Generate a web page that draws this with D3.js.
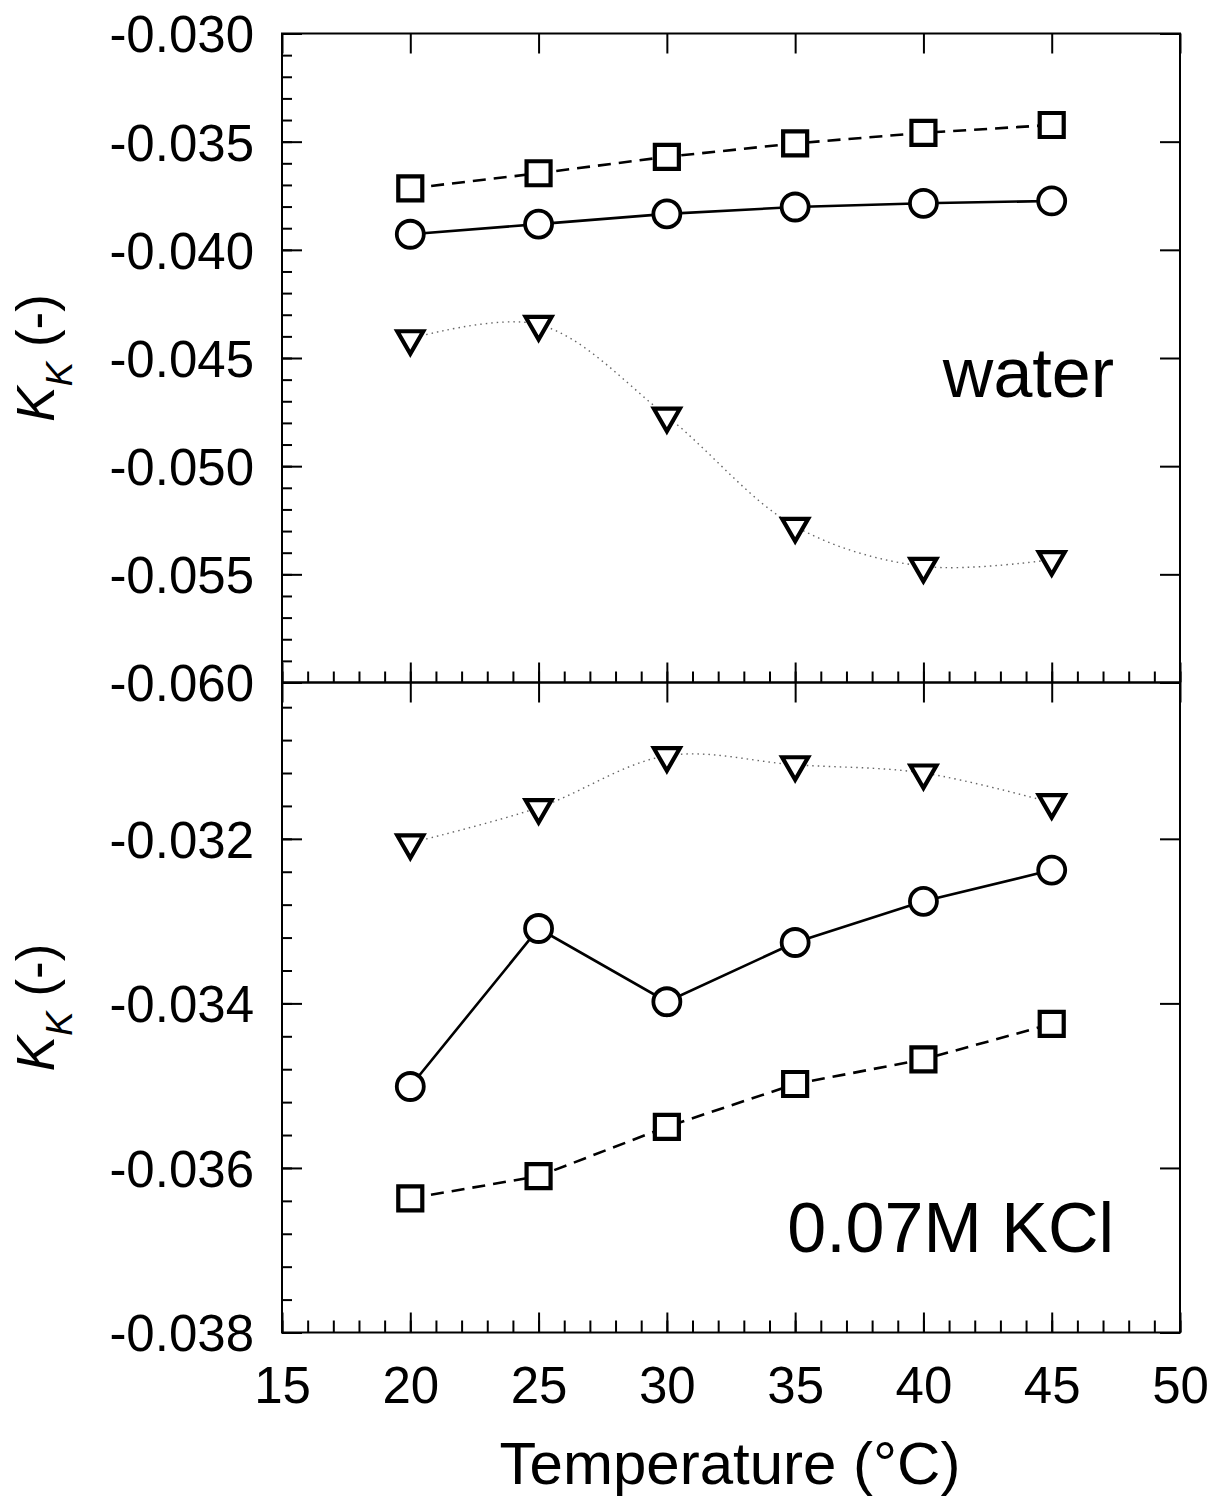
<!DOCTYPE html>
<html>
<head>
<meta charset="utf-8">
<script src="https://cdn.jsdelivr.net/npm/d3@7"></script>
<style>
  html, body { margin: 0; padding: 0; background: #fff; }
  svg text { font-family: Arial, "Liberation Sans", Helvetica, sans-serif; fill: #000; }
</style>
</head>
<body>
<div id="chart"></div>
<script>
// ── DATA ────────────────────────────────────────────────────────────────
const temps = [20, 25, 30, 35, 40, 45];

// panneau haut : eau
const waterSquare   = [-0.03716, -0.03646, -0.03570, -0.03508, -0.03459, -0.03423];
const waterCircle   = [-0.03928, -0.03881, -0.03834, -0.03802, -0.03785, -0.03774];
const waterTriangle = [-0.04411, -0.04345, -0.04769, -0.05278, -0.05463, -0.05432];

// panneau bas : 0.07M KCl
const kclSquare   = [-0.03637, -0.03610, -0.03550, -0.03498, -0.03468, -0.03425];
const kclCircle   = [-0.03501, -0.03309, -0.03398, -0.03326, -0.03276, -0.03238];
const kclTriangle = [-0.03205, -0.03162, -0.03099, -0.03110, -0.03120, -0.03156];

// ticks
const xTicks      = [15, 20, 25, 30, 35, 40, 45, 50];
const topYTicks   = [-0.060, -0.055, -0.050, -0.045, -0.040, -0.035, -0.030];
const botYTicks   = [-0.038, -0.036, -0.034, -0.032];

// ── LAYOUT ──────────────────────────────────────────────────────────────
const W = 1208, H = 1504;
const L = 282, R = 1180, T = 33.5, M = 682.5, B = 1332.5;

const svg = d3.select('#chart').append('svg').attr('width', W).attr('height', H);

const x = d3.scaleLinear().domain([15, 50]).range([L, R]);
const yTop = d3.scaleLinear().domain([-0.060, -0.030]).range([M, T]);
const yBot = d3.scaleLinear().domain([-0.038, -0.0301]).range([B, M]);

const fmt = d => d.toFixed(3);
const xMinor = d3.range(15, 51, 1);
const topMinor = d3.range(0, 31).map(i => -0.060 + i * 0.001);
const botMinor = d3.range(0, 20).map(i => -0.038 + i * 0.0004).filter(v => v <= -0.0301);

function styleAxis(g) {
  g.select('.domain').remove();
  g.selectAll('.tick line').attr('stroke', '#000').attr('stroke-width', 2);
  g.selectAll('.tick text').attr('font-size', '51px').attr('fill', '#000');
}

// ── AXES ────────────────────────────────────────────────────────────────
function yAxes(y, major, minor, top, bottom) {
  // gauche : majeurs + mineurs vers l'intérieur
  svg.append('g').attr('transform', `translate(${L},0)`)
    .call(d3.axisLeft(y).tickValues(minor).tickSize(-10).tickFormat(''))
    .call(styleAxis);
  svg.append('g').attr('transform', `translate(${L},0)`)
    .call(d3.axisLeft(y).tickValues(major.filter(v => y(v) >= top - 1 && y(v) <= bottom + 1))
      .tickSize(-20).tickPadding(28).tickFormat(fmt))
    .call(styleAxis)
    .call(g => g.selectAll('.tick text').attr('dy', '0.36em'));
  // droite : majeurs seulement
  svg.append('g').attr('transform', `translate(${R},0)`)
    .call(d3.axisRight(y).tickValues(major).tickSize(-20).tickFormat(''))
    .call(styleAxis);
}
yAxes(yTop, topYTicks, topMinor, T, M);
yAxes(yBot, botYTicks, botMinor, M, B);

// haut du panneau supérieur : majeurs vers le bas
svg.append('g').attr('transform', `translate(0,${T})`)
  .call(d3.axisTop(x).tickValues(xTicks).tickSize(-20).tickFormat(''))
  .call(styleAxis);

// séparation : majeurs qui traversent, mineurs vers le haut
svg.append('g').attr('transform', `translate(0,${M})`)
  .call(d3.axisBottom(x).tickValues(xMinor).tickSize(-11).tickFormat(''))
  .call(styleAxis);
svg.append('g').attr('transform', `translate(0,${M})`)
  .call(d3.axisBottom(x).tickValues(xTicks).tickSize(-20).tickFormat(''))
  .call(styleAxis);
svg.append('g').attr('transform', `translate(0,${M})`)
  .call(d3.axisBottom(x).tickValues(xTicks).tickSize(20).tickFormat(''))
  .call(styleAxis);

// axe du bas
svg.append('g').attr('transform', `translate(0,${B})`)
  .call(d3.axisBottom(x).tickValues(xMinor).tickSize(-12).tickFormat(''))
  .call(styleAxis);
svg.append('g').attr('transform', `translate(0,${B})`)
  .call(d3.axisBottom(x).tickValues(xTicks).tickSize(-20).tickPadding(70).tickFormat(d3.format('d')))
  .call(styleAxis)
  .call(g => g.selectAll('.tick text').attr('dy', '0'));

// cadres
[[T, M], [M, B]].forEach(([t, b]) => {
  svg.append('rect').attr('x', L).attr('y', t).attr('width', R - L).attr('height', b - t)
    .attr('fill', 'none').attr('stroke', '#000').attr('stroke-width', 2);
});

// ── SÉRIES ──────────────────────────────────────────────────────────────
const seriesStyles = {
  square:   { dash: '13,8', color: '#000', width: 2.6, curve: d3.curveLinear },
  circle:   { dash: null, color: '#000', width: 2.6, curve: d3.curveLinear },
  triangle: { dash: '1.5,4', color: '#666', width: 1.4, curve: d3.curveCatmullRom.alpha(0.5) }
};

const symbols = {
  square: d3.symbol().type(d3.symbolSquare).size(24 * 24),
  circle: d3.symbol().type(d3.symbolCircle).size(Math.PI * 13.5 * 13.5),
  triangle: d3.symbol().type(d3.symbolTriangle).size(26 * 26 * Math.sqrt(3) / 4)
};

function drawSeries(y, values, kind) {
  const st = seriesStyles[kind];
  const pts = temps.map((t, i) => [t, values[i]]);
  svg.append('path').datum(pts)
    .attr('d', d3.line().x(d => x(d[0])).y(d => y(d[1])).curve(st.curve))
    .attr('fill', 'none').attr('stroke', st.color).attr('stroke-width', st.width)
    .attr('stroke-dasharray', st.dash);
  return pts;
}

function drawMarkers(y, pts, kind) {
  svg.append('g').selectAll('path').data(pts).enter().append('path')
    .attr('d', symbols[kind]())
    .attr('transform', d => `translate(${x(d[0])},${y(d[1])})` + (kind === 'triangle' ? ' rotate(180)' : ''))
    .attr('fill', '#fff').attr('stroke', '#000')
    .attr('stroke-width', kind === 'circle' ? 3.8 : 4.2)
    .attr('stroke-linejoin', 'miter');
}

[[yTop, waterSquare, 'square'], [yTop, waterCircle, 'circle'], [yTop, waterTriangle, 'triangle'],
 [yBot, kclSquare, 'square'], [yBot, kclCircle, 'circle'], [yBot, kclTriangle, 'triangle']]
  .map(([y, v, k]) => [y, drawSeries(y, v, k), k])
  .forEach(([y, pts, k]) => drawMarkers(y, pts, k));

// ── TEXTES ──────────────────────────────────────────────────────────────
svg.append('text').attr('x', 1114).attr('y', 397).attr('text-anchor', 'end')
  .attr('font-size', '70px').text('water');
svg.append('text').attr('x', 1114).attr('y', 1252).attr('text-anchor', 'end')
  .attr('font-size', '70px').text('0.07M KCl');

svg.append('text').attr('x', 730).attr('y', 1484).attr('text-anchor', 'middle')
  .attr('font-size', '60px').text('Temperature (°C)');

[(T + M) / 2, (M + B) / 2].forEach(cy => {
  const t = svg.append('text').attr('transform', `translate(54,${cy}) rotate(-90)`)
    .attr('text-anchor', 'middle').attr('font-size', '53px');
  t.append('tspan').attr('font-style', 'italic').text('K');
  t.append('tspan').attr('font-style', 'italic').attr('font-size', '37px').attr('dy', 18).text('K');
  t.append('tspan').attr('dy', -18).text(' (-)');
});
</script>
</body>
</html>
